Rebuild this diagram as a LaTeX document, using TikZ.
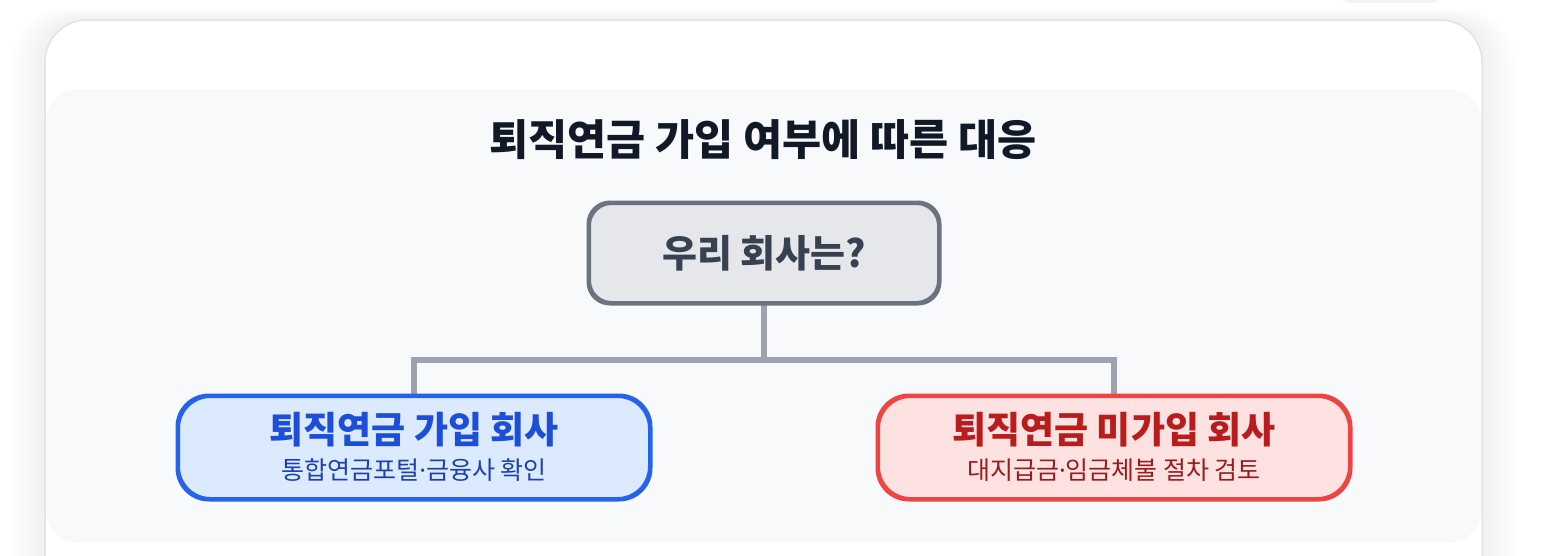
\documentclass[tikz,border=0pt]{standalone}
\usepackage{fontspec}
\newfontfamily\cjk{Noto Sans CJK KR}
\newfontfamily\latdot{Noto Sans}
\newcommand{\mdot}{{\latdot ·}}
\definecolor{cardborder}{HTML}{E3E3E3}
\definecolor{panelbg}{HTML}{F8F9FB}
\definecolor{titlecol}{HTML}{111827}
\definecolor{rootfill}{HTML}{E5E7EB}
\definecolor{rootdraw}{HTML}{6B7280}
\definecolor{roottext}{HTML}{374151}
\definecolor{linkcol}{HTML}{9CA3AF}
\definecolor{bluefill}{HTML}{DBEAFE}
\definecolor{bluedraw}{HTML}{2563EB}
\definecolor{bluetitle}{HTML}{1D4ED8}
\definecolor{bluesub}{HTML}{1E40AF}
\definecolor{redfill}{HTML}{FEE2E2}
\definecolor{reddraw}{HTML}{EF4444}
\definecolor{redtitle}{HTML}{B91C1C}
\definecolor{redsub}{HTML}{991B1B}
\definecolor{tabfill}{HTML}{F2F3F5}
\tikzset{
  rootbox/.style={draw=rootdraw, fill=rootfill, line width=3pt, rounded corners=22pt,
    minimum width=349pt, minimum height=99pt, inner sep=0pt},
  leafbox/.style={line width=3pt, rounded corners=32pt,
    minimum width=471pt, minimum height=102pt, inner sep=0pt},
  link/.style={draw=linkcol, line width=6pt, line join=miter},
  bigtext/.style={font=\cjk\bfseries\fontsize{37}{42}\selectfont, inner sep=0pt},
  subtext/.style={font=\cjk\fontsize{25}{28}\selectfont, inner sep=0pt},
}
\begin{document}
\begin{tikzpicture}[x=1pt,y=-1pt]
\useasboundingbox (0,0) rectangle (1547,555);
\fill[white] (0,0) rectangle (1547,555);
% top-right partial tab
\fill[tabfill, rounded corners=20pt] (1333,-40) rectangle (1448,3);
% card shadow
\foreach \i in {1,...,14}{
  \fill[black, opacity=0.0045, rounded corners={40pt+\i pt}] (45-2.5*\i,20-0.8*\i) rectangle (1482+2.5*\i,620);
}
% card
\filldraw[fill=white, draw=cardborder, line width=1.5pt, rounded corners=42pt] (45,20) rectangle (1482,640);
% panel
\fill[panelbg, rounded corners=32pt] (46.5,89) rectangle (1480.5,543);
% title
\node[font=\cjk\bfseries\fontsize{42.5}{48}\selectfont, text=titlecol, inner sep=0pt] (title) at (763,140) {퇴직연금 가입 여부에 따른 대응};
% root
\node[rootbox] (root) at (764,253) {};
\node[font=\cjk\bfseries\fontsize{38}{44}\selectfont, text=roottext, inner sep=0pt] (roottxt) at (764,253) {우리 회사는?};
% leaves
\node[leafbox, draw=bluedraw, fill=bluefill] (L) at (414,447.5) {};
\node[bigtext, text=bluetitle] (Lt) at (414,430) {퇴직연금 가입 회사};
\node[subtext, text=bluesub] (Ls) at (414,470) {통합연금포털\mdot 금융사 확인};
\node[leafbox, draw=reddraw, fill=redfill] (R) at (1114,447.5) {};
\node[bigtext, text=redtitle] (Rt) at (1114,430) {퇴직연금 미가입 회사};
\node[subtext, text=redsub] (Rs) at (1114,470) {대지급금\mdot 임금체불 절차 검토};
% connectors
\coordinate (j) at (764,360);
\draw[link] (root.south) -- (j);
\draw[link] (L.north) |- (j) -| (R.north);
% redraw box borders over connectors
\draw[draw=bluedraw, line width=3pt, rounded corners=32pt] (L.south west) rectangle (L.north east);
\draw[draw=reddraw, line width=3pt, rounded corners=32pt] (R.south west) rectangle (R.north east);
\draw[draw=rootdraw, line width=3pt, rounded corners=22pt] (root.south west) rectangle (root.north east);
\end{tikzpicture}
\end{document}
